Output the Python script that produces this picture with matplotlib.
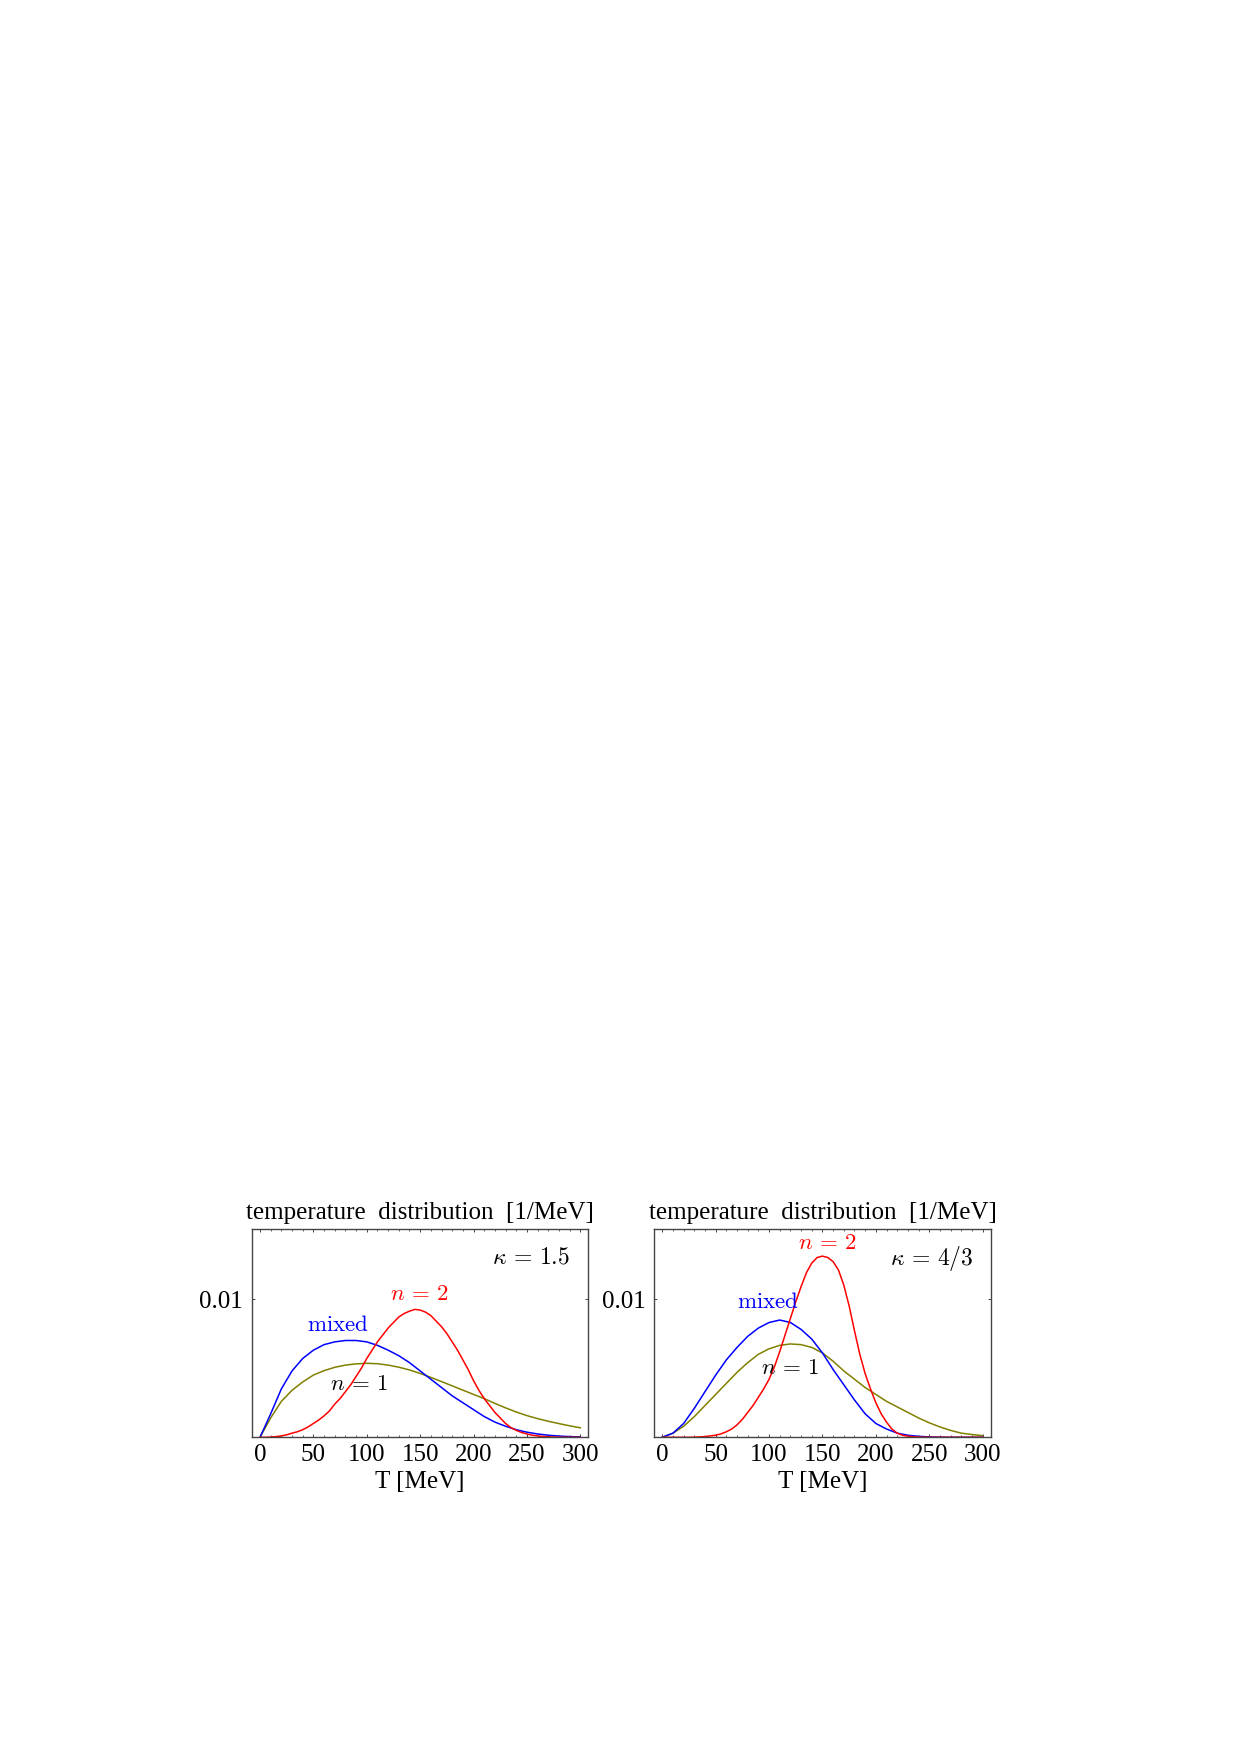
import numpy as np
import matplotlib
matplotlib.use("Agg")
import matplotlib.pyplot as plt
from matplotlib.ticker import MultipleLocator, FixedLocator

plt.rcParams['font.family'] = 'serif'
plt.rcParams['font.serif'] = ['Liberation Serif', 'DejaVu Serif']
plt.rcParams['mathtext.fontset'] = 'cm'

# ---- data ----
T = [0, 10, 20, 30, 40, 50, 60, 70, 80, 90, 100, 110, 120, 130, 140, 150,
     160, 170, 180, 190, 200, 210, 220, 230, 240, 250, 260, 270, 280, 290, 300]
T_red = [0, 5, 10, 15, 20, 25, 30, 35, 40, 45, 50, 55, 60, 65, 70, 75, 80, 85, 90, 95,
         100, 105, 110, 115, 120, 125, 130, 135, 140, 145, 150, 155, 160, 165, 170, 175,
         180, 185, 190, 195, 200, 205, 210, 215, 220, 225, 230, 235, 240, 245, 250, 255,
         260, 265, 270, 275, 280, 285, 290, 295, 300]

# kappa = 1.5
mixed_k15 = [0, 0.0017, 0.0035, 0.0048, 0.0057, 0.0063, 0.0067, 0.0069, 0.0070, 0.0070,
             0.0069, 0.00665, 0.0063, 0.0059, 0.0054, 0.0048, 0.0042, 0.0036, 0.0030, 0.0025,
             0.0020, 0.0015, 0.0011, 0.0008, 0.00055, 0.00037, 0.00024, 0.00015, 0.00009,
             0.00005, 0.00003]
n1_k15 = [0, 0.0014, 0.0026, 0.0034, 0.0040, 0.0045, 0.00482, 0.00506, 0.00522, 0.00531,
          0.00535, 0.00532, 0.00522, 0.00507, 0.00487, 0.00462, 0.00433, 0.00403, 0.00372,
          0.00341, 0.0031, 0.0028, 0.00245, 0.00213, 0.00183, 0.00157, 0.00135, 0.00116,
          0.00099, 0.00083, 0.00069]
n2_k15 = [0, 0, 0.00002, 0.00005, 0.0001, 0.00018, 0.0003, 0.0004, 0.00055, 0.00075,
          0.0010, 0.00125, 0.00155, 0.0019, 0.0024, 0.0028, 0.0033, 0.0038, 0.0044, 0.0050,
          0.0057, 0.0063, 0.0069, 0.0074, 0.0079, 0.0083, 0.0087, 0.00895, 0.00912, 0.00925,
          0.0092, 0.00905, 0.0088, 0.0084, 0.0080, 0.0075, 0.0069, 0.0063, 0.0056, 0.0049,
          0.0041, 0.0034, 0.0028, 0.0023, 0.0018, 0.0014, 0.0010, 0.0007, 0.0005, 0.00035,
          0.00024, 0.00015, 0.0001, 0.00006, 0.00004, 0.00002, 0.00001, 0, 0, 0, 0]

# kappa = 4/3
mixed_k43 = [0, 0.0003, 0.0010, 0.0021, 0.0033, 0.0045, 0.0056, 0.0065, 0.0073, 0.0079,
             0.0083, 0.00848, 0.0083, 0.0078, 0.0071, 0.0061, 0.0049, 0.0038, 0.0027, 0.0017,
             0.0010, 0.0006, 0.0003, 0.00015, 0.00007, 0.00003, 0.00001, 0, 0, 0, 0]
n1_k43 = [0, 0.0003, 0.0008, 0.0015, 0.0023, 0.0031, 0.0039, 0.0047, 0.0054, 0.0060,
          0.0064, 0.00665, 0.00675, 0.0067, 0.0065, 0.0061, 0.0055, 0.0048, 0.0042, 0.0036,
          0.0031, 0.0026, 0.0022, 0.0018, 0.0014, 0.00105, 0.00075, 0.0005, 0.0003, 0.0002,
          0.00012]
n2_k43 = [0, 0, 0, 0, 0, 0, 0.00001, 0.00003, 0.00005, 0.0001, 0.00015, 0.00025, 0.0004,
          0.0006, 0.0009, 0.0013, 0.0018, 0.0023, 0.0029, 0.0035, 0.0042, 0.0051, 0.0062,
          0.0074, 0.0086, 0.0098, 0.0109, 0.0119, 0.0126, 0.0130, 0.0131, 0.0130, 0.0127,
          0.0121, 0.0110, 0.0095, 0.0077, 0.0060, 0.0046, 0.0035, 0.0025, 0.0017, 0.0011,
          0.0006, 0.0003, 0.00015, 0.00008, 0.00004, 0.00002, 0.00001, 0, 0, 0, 0, 0, 0,
          0, 0, 0, 0, 0]

xticks = [0, 50, 100, 150, 200, 250, 300]
yticks = [0.01]
ytick_labels = ['0.01']
title = 'temperature  distribution  [1/MeV]'
xlabel = 'T [MeV]'

panels = [
    dict(mixed=mixed_k15, n1=n1_k15, n2=n2_k15, kappa=r'$\kappa\,=\,1.5$',
         kpos=(254, 0.01296), mpos=(72.8, 0.00812), n1pos=(93, 0.00385), n2pos=(149.6, 0.0103)),
    dict(mixed=mixed_k43, n1=n1_k43, n2=n2_k43, kappa=r'$\kappa\,=\,4/3$',
         kpos=(252.5, 0.01296), mpos=(99, 0.00978), n1pos=(119.6, 0.00494), n2pos=(154.7, 0.0140)),
]

W, H = 1246, 1762
fig = plt.figure(figsize=(W / 100, H / 100), dpi=100)
lefts = [252, 654.3]
bottom_px = 1437.3
width_px = 336.3
height_px = 208

olive = '#808000'
for left, p in zip(lefts, panels):
    ax = fig.add_axes([left / W, (H - bottom_px) / H, width_px / W, height_px / H])
    ax.plot(T, p['n1'], color=olive, lw=1.1)
    ax.plot(T, p['mixed'], color='#0000ff', lw=1.1)
    ax.plot(T_red, p['n2'], color='#ff0000', lw=1.1)
    ax.set_xlim(-7.5, 307.5)
    ax.set_ylim(0, 0.01504)
    ax.xaxis.set_major_locator(FixedLocator(xticks))
    ax.xaxis.set_minor_locator(MultipleLocator(10))
    ax.yaxis.set_major_locator(FixedLocator(yticks))
    ax.set_yticklabels(ytick_labels)
    ax.tick_params(which='both', direction='in', top=True, right=True, colors='#444444',
                   labelcolor='black', labelsize=18)
    ax.tick_params(which='major', length=2.5, width=0.7)
    ax.tick_params(which='minor', length=1.2, width=0.6)
    ax.tick_params(axis='x', pad=5)
    ax.tick_params(axis='y', pad=6.5)
    for s in ax.spines.values():
        s.set_color('#444444')
        s.set_linewidth(1.0)
    ax.set_title(title, fontsize=18, pad=7.5)
    ax.set_xlabel(xlabel, fontsize=18, labelpad=3.5)
    ax.text(*p['kpos'], p['kappa'], fontsize=17, ha='center', va='center', color='black')
    ax.text(*p['mpos'], r'$\mathrm{mixed}$', fontsize=16.5, ha='center', va='center', color='#0000ff')
    ax.text(*p['n1pos'], r'$n\,=\,1$', fontsize=16.5, ha='center', va='center', color='black')
    ax.text(*p['n2pos'], r'$n\,=\,2$', fontsize=16.5, ha='center', va='center', color='#ff0000')

fig.savefig('out.png', dpi=100, facecolor='white')
